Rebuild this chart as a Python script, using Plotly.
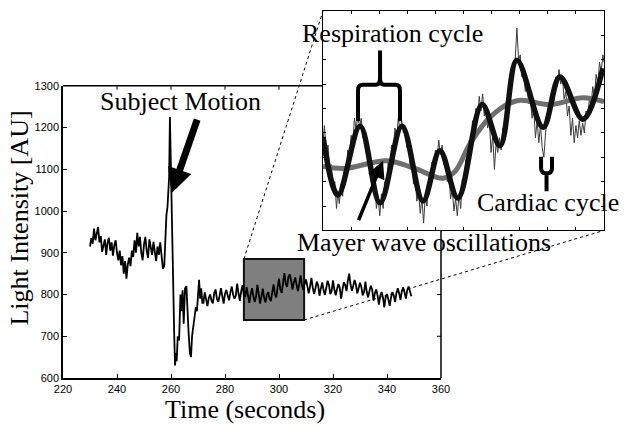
import plotly.graph_objects as go

# ---------------- data ----------------
time_s = [230.0, 230.5, 231.0, 231.5, 232.0, 232.5, 233.0, 233.5, 234.0, 234.5, 235.0, 235.5, 236.0, 236.5,
          237.0, 237.5, 238.0, 238.5, 239.0, 239.5, 240.0, 240.5, 241.0, 241.5, 242.0, 242.5, 243.0, 243.5,
          244.0, 244.5, 245.0, 245.5, 246.0, 246.5, 247.0, 247.5, 248.0, 248.5, 249.0, 249.5, 250.0, 250.5,
          251.0, 251.5, 252.0, 252.5, 253.0, 253.5, 254.0, 254.5, 255.0, 255.5, 256.0, 256.5, 257.0, 257.5,
          258.0, 258.3, 258.7, 259.0, 259.3, 259.6, 259.8, 260.0, 260.3, 260.6, 260.9, 261.2, 261.5, 261.8,
          262.1, 262.5, 263.0, 263.5, 263.8, 264.3, 264.7, 265.2, 265.7, 266.0, 266.5, 267.0, 267.4, 267.8,
          268.3, 268.7, 269.2, 269.6, 270.0, 270.4, 270.8, 271.2, 271.6,
          272.0, 272.5, 273.0, 273.5, 274.0, 274.5, 275.0, 275.5, 276.0, 276.5, 277.0, 277.5, 278.0, 278.5,
          279.0, 279.5, 280.0, 280.5, 281.0, 281.5, 282.0, 282.5, 283.0, 283.5, 284.0, 284.5, 285.0, 285.5,
          286.0, 286.5, 287.0, 287.5, 288.0, 288.5, 289.0, 289.5, 290.0, 290.5, 291.0, 291.5, 292.0, 292.5,
          293.0, 293.5, 294.0, 294.5, 295.0, 295.5, 296.0, 296.5, 297.0, 297.5, 298.0, 298.5, 299.0, 299.5,
          300.0, 300.5, 301.0, 301.5, 302.0, 302.5, 303.0, 303.5, 304.0, 304.5, 305.0, 305.5, 306.0, 306.5,
          307.0, 307.5, 308.0, 308.5, 309.0, 309.5, 310.0, 310.5, 311.0, 311.5, 312.0, 312.5, 313.0, 313.5,
          314.0, 314.5, 315.0, 315.5, 316.0, 316.5, 317.0, 317.5, 318.0, 318.5, 319.0, 319.5, 320.0, 320.5,
          321.0, 321.5, 322.0, 322.5, 323.0, 323.5, 324.0, 324.5, 325.0, 325.5, 326.0, 326.5, 327.0, 327.5,
          328.0, 328.5, 329.0, 329.5, 330.0, 330.5, 331.0, 331.5, 332.0, 332.5, 333.0, 333.5, 334.0, 334.5,
          335.0, 335.5, 336.0, 336.5, 337.0, 337.5, 338.0, 338.5, 339.0, 339.5, 340.0, 340.5, 341.0, 341.5,
          342.0, 342.5, 343.0, 343.5, 344.0, 344.5, 345.0, 345.5, 346.0, 346.5, 347.0, 347.5, 348.0, 348.5,
          349.0]
intensity_au = [915, 935, 922, 958, 930, 948, 962, 925, 940, 902, 920, 932, 895, 925,
                936, 905, 925, 893, 918, 930, 900, 882, 905, 870, 892, 850, 880, 838,
                872, 888, 868, 905, 890, 930, 900, 948, 915, 938, 900, 882, 920, 938,
                905, 888, 932, 915, 895, 926, 905, 880, 915, 895, 925, 900, 862, 868,
                960, 990, 1010, 1040, 1080, 1225, 1160, 1080, 950, 810, 780, 700, 630, 660,
                640, 700, 690, 800, 760, 810, 730, 815, 820, 760, 710, 660, 650, 700,
                730, 750, 770, 760, 800, 835, 790, 815, 780,
                780, 805, 788, 772, 792, 800, 785, 779, 803, 812, 790, 782, 797, 815,
                796, 778, 802, 811, 798, 786, 805, 819, 800, 790, 797, 826, 803, 785,
                808, 822, 798, 794, 818, 803, 780, 799, 815, 797, 782, 795, 823, 801,
                778, 796, 814, 792, 781, 799, 806, 790, 784, 805, 824, 800, 793, 818,
                838, 812, 804, 828, 851, 826, 818, 843, 848, 833, 812, 829, 841, 824,
                808, 825, 846, 822, 811, 826, 836, 820, 803, 819, 840, 817, 801, 815,
                831, 822, 797, 814, 829, 811, 799, 816, 833, 823, 801, 809, 834, 812,
                798, 813, 825, 816, 790, 811, 829, 823, 808, 833, 850, 824, 809, 821,
                835, 823, 803, 815, 828, 818, 798, 806, 831, 806, 793, 808, 821, 812,
                785, 803, 812, 798, 776, 797, 806, 793, 769, 794, 801, 788, 773, 793,
                806, 798, 782, 804, 815, 803, 787, 808, 817, 805, 790, 811, 819, 808,
                796]

# zoomed window (seconds / AU) shown as the grey box
zoom_t = [287.0, 309.3]
zoom_v = [739, 885]

# inset (arbitrary units, 0-10 by 0-9)
raw_x = [0.00, 0.05, 0.12, 0.18, 0.24, 0.30, 0.36, 0.42, 0.48, 0.53, 0.58, 0.64, 0.70, 0.76, 0.82, 0.88, 0.94,
         1.00, 1.06, 1.12, 1.18, 1.24, 1.30, 1.36, 1.42, 1.48, 1.54, 1.60, 1.66, 1.72, 1.78, 1.84, 1.90, 1.96,
         2.02, 2.08, 2.14, 2.20, 2.26, 2.32, 2.38, 2.44, 2.50, 2.56, 2.62, 2.68, 2.74, 2.80, 2.86, 2.92, 2.98,
         3.04, 3.10, 3.16, 3.22, 3.28, 3.34, 3.40, 3.46, 3.52, 3.58, 3.64, 3.70, 3.76, 3.82, 3.88, 3.94,
         4.00, 4.06, 4.12, 4.18, 4.24, 4.30, 4.36, 4.42, 4.48, 4.54, 4.60, 4.66, 4.72, 4.78, 4.84, 4.90, 4.96,
         5.02, 5.08, 5.14, 5.20, 5.26, 5.32, 5.38, 5.44, 5.50, 5.56, 5.62, 5.68, 5.74, 5.80, 5.86, 5.92, 5.98,
         6.04, 6.10, 6.16, 6.22, 6.28, 6.34, 6.40, 6.46, 6.52, 6.58, 6.64, 6.70, 6.76, 6.84, 6.90, 6.96,
         7.02, 7.08, 7.14, 7.20, 7.26, 7.32, 7.38, 7.44, 7.50, 7.56, 7.62, 7.68, 7.74, 7.80, 7.86, 7.92, 7.98,
         8.04, 8.10, 8.16, 8.22, 8.28, 8.34, 8.40, 8.46, 8.52, 8.58, 8.64, 8.70, 8.76, 8.82, 8.88, 8.94,
         9.00, 9.06, 9.12, 9.18, 9.24, 9.30, 9.36, 9.42, 9.48, 9.54, 9.60, 9.66, 9.72, 9.78, 9.84, 9.90, 9.96, 10.0]
raw_y = [3.6, 4.3, 3.2, 3.5, 2.4, 2.7, 1.6, 2.0, 0.9, 1.6, 1.1, 1.9, 1.4, 2.6, 2.2, 3.3, 3.0,
         3.9, 3.6, 4.6, 4.1, 4.8, 4.2, 4.6, 3.8, 4.1, 3.2, 3.4, 2.4, 2.7, 1.6, 2.0, 0.9, 1.4,
         0.6, 1.5, 0.9, 2.0, 1.7, 2.8, 2.4, 3.5, 3.2, 4.2, 3.8, 4.6, 4.1, 4.5, 4.0, 4.3, 3.4,
         3.6, 2.6, 2.9, 1.9, 2.2, 1.2, 1.6, 0.7, 1.3, 0.3, 1.4, 1.0, 2.0, 1.8, 2.8, 2.5,
         3.3, 3.0, 3.7, 3.1, 3.5, 2.7, 2.9, 2.0, 2.3, 1.3, 1.7, 0.8, 1.3, 0.6, 1.5, 0.9, 2.1,
         1.8, 2.9, 2.6, 3.7, 3.4, 4.5, 4.0, 5.0, 4.6, 5.5, 4.9, 5.6, 4.7, 5.0, 4.2, 4.5, 3.2,
         3.9, 2.5, 3.6, 3.2, 3.8, 3.3, 4.2, 4.0, 5.0, 4.8, 5.9, 5.7, 6.8, 7.0, 8.3, 7.0,
         7.2, 6.3, 6.6, 5.7, 6.0, 5.2, 5.4, 4.6, 5.0, 3.8, 4.5, 3.6, 4.3, 3.4, 3.0, 4.0, 4.6,
         5.0, 4.8, 5.6, 5.3, 6.3, 5.9, 6.6, 6.0, 6.3, 5.4, 5.7, 4.7, 5.1, 3.9, 4.6, 3.6,
         4.3, 3.8, 4.5, 3.9, 4.4, 4.0, 4.9, 4.6, 5.4, 5.1, 5.9, 5.5, 6.4, 6.0, 6.9, 6.5, 7.2, 6.9]
resp_x = [0.0, 0.53, 1.32, 2.03, 2.81, 3.56, 4.16, 4.80, 5.66, 6.30, 6.90, 7.83, 8.43, 9.25, 9.96]
resp_y = [3.83, 1.45, 4.27, 1.13, 4.27, 1.21, 3.27, 1.33, 5.16, 3.47, 6.98, 4.23, 6.29, 4.56, 6.65]
mayer_x = [0.0, 0.78, 2.28, 3.27, 4.27, 4.70, 5.23, 5.94, 6.90, 8.08, 9.25, 10.0]
mayer_y = [2.62, 2.54, 2.86, 2.54, 2.14, 2.42, 3.55, 4.64, 5.32, 5.16, 5.44, 5.28]

x_ticks = [220, 240, 260, 280, 300, 320, 340, 360]
y_ticks = [600, 700, 800, 900, 1000, 1100, 1200, 1300]

# ---------------- layout geometry ----------------
FIG_W, FIG_H = 626, 428
ML, MR, MT, MB = 63, 22, 5, 50
PW, PH = FIG_W - ML - MR, FIG_H - MT - MB


def pxx(px):
    return (px - ML) / PW


def pxy(py):
    return (FIG_H - MB - py) / PH


main_xdom = [0.0, pxx(441)]
main_ydom = [0.0, pxy(81)]
ins_xdom = [pxx(323), 1.0]
ins_ydom = [pxy(228), 1.0]
XR = [x_ticks[0], x_ticks[-1]]
YR = [y_ticks[0], y_ticks[-1]]
IXR = [0, 10]
IYR = [0, 9]


def main_to_paper(t, v):
    xp = main_xdom[0] + (t - XR[0]) / (XR[1] - XR[0]) * (main_xdom[1] - main_xdom[0])
    yp = main_ydom[0] + (v - YR[0]) / (YR[1] - YR[0]) * (main_ydom[1] - main_ydom[0])
    return xp, yp


SERIF = "Liberation Serif, Times New Roman, serif"
SANS = "Liberation Sans, Arial, sans-serif"

fig = go.Figure()

fig.add_trace(go.Scatter(x=time_s, y=intensity_au, mode="lines",
                         line=dict(color="#000000", width=1.8), xaxis="x", yaxis="y",
                         showlegend=False, hoverinfo="skip"))

fig.add_trace(go.Scatter(x=raw_x, y=raw_y, mode="lines",
                         line=dict(color="#3a3a3a", width=1), xaxis="x2", yaxis="y2",
                         showlegend=False, hoverinfo="skip"))
fig.add_trace(go.Scatter(x=mayer_x, y=mayer_y, mode="lines",
                         line=dict(color="#6e6e6e", width=5, shape="spline", smoothing=1.0),
                         xaxis="x2", yaxis="y2", showlegend=False, hoverinfo="skip"))
fig.add_trace(go.Scatter(x=resp_x, y=resp_y, mode="lines",
                         line=dict(color="#111111", width=5.5, shape="spline", smoothing=1.0),
                         xaxis="x2", yaxis="y2", showlegend=False, hoverinfo="skip"))

shapes = []
# grey zoom box
shapes.append(dict(type="rect", xref="x", yref="y", x0=zoom_t[0], x1=zoom_t[1], y0=zoom_v[0], y1=zoom_v[1],
                   fillcolor="#7f7f7f", line=dict(color="#111111", width=2), layer="below"))
# dotted connectors
p1 = main_to_paper(zoom_t[0], zoom_v[1])
p2 = main_to_paper(zoom_t[1], zoom_v[0])
shapes.append(dict(type="line", xref="paper", yref="paper", x0=p1[0], y0=p1[1], x1=ins_xdom[0], y1=ins_ydom[1],
                   line=dict(color="#000000", width=1, dash="dot")))
shapes.append(dict(type="line", xref="paper", yref="paper", x0=p2[0], y0=p2[1], x1=ins_xdom[1], y1=ins_ydom[0],
                   line=dict(color="#000000", width=1, dash="dot")))
# visible parts of main box (top and right) not hidden by inset
shapes.append(dict(type="line", xref="paper", yref="paper", x0=main_xdom[0], x1=ins_xdom[0],
                   y0=main_ydom[1], y1=main_ydom[1], line=dict(color="#000000", width=1.5)))
shapes.append(dict(type="line", xref="paper", yref="paper", x0=main_xdom[1], x1=main_xdom[1],
                   y0=main_ydom[0], y1=ins_ydom[0], line=dict(color="#000000", width=1.5)))
for tv in [700, 800]:
    shapes.append(dict(type="line", xref="paper", yref="y", x0=main_xdom[1] - 4 / PW, x1=main_xdom[1],
                       y0=tv, y1=tv, line=dict(color="#000000", width=1)))
for tt in [240, 260, 280, 300]:
    shapes.append(dict(type="line", xref="x", yref="paper", x0=tt, x1=tt,
                       y0=main_ydom[1], y1=main_ydom[1] - 4 / PH, line=dict(color="#000000", width=1)))
# respiration brace
shapes.append(dict(type="path", xref="x2", yref="y2",
                   path="M 1.246,4.48 L 1.246,5.75 Q 1.246,5.97 1.42,5.97 L 1.88,5.97 Q 2.03,5.97 2.03,6.25 "
                        "L 2.03,7.38 M 2.03,6.25 Q 2.03,5.97 2.18,5.97 L 2.57,5.97 Q 2.74,5.97 2.74,5.75 L 2.74,4.48",
                   line=dict(color="#000000", width=4)))
# cardiac brace
shapes.append(dict(type="path", xref="x2", yref="y2",
                   path="M 7.76,3.02 L 7.76,2.55 Q 7.76,2.34 7.955,2.34 Q 8.15,2.34 8.15,2.55 L 8.15,3.02 "
                        "M 7.955,2.34 L 7.955,1.61",
                   line=dict(color="#000000", width=4)))

annotations = []
# axis titles
annotations.append(dict(text="Light Intensity [AU]", xref="paper", yref="paper", x=pxx(20), y=pxy(216),
                        textangle=-90, showarrow=False, font=dict(family=SERIF, size=26, color="#000000"),
                        xanchor="center", yanchor="middle"))
annotations.append(dict(text="Time (seconds)", xref="paper", yref="paper", x=pxx(245), y=pxy(410),
                        showarrow=False, font=dict(family=SERIF, size=26, color="#000000"),
                        xanchor="center", yanchor="middle"))
for txt, cx, cy in [("Subject Motion", 180, 97), ("Respiration cycle", 392, 28),
                    ("Cardiac cycle", 548, 200), ("Mayer wave oscillations", 424, 240)]:
    annotations.append(dict(text=txt, xref="paper", yref="paper", x=pxx(cx), y=pxy(cy), showarrow=False,
                            font=dict(family=SERIF, size=26, color="#000000"),
                            xanchor="center", yanchor="middle"))
# arrows
annotations.append(dict(text="", x=260.25, y=1043, xref="x", yref="y", showarrow=True, ax=26, ay=-75,
                        arrowhead=2, arrowwidth=7, arrowsize=0.7, arrowcolor="#000000"))
annotations.append(dict(text="", x=2.135, y=2.86, xref="x2", yref="y2", showarrow=True, ax=-25, ay=61,
                        arrowhead=2, arrowwidth=3.5, arrowsize=1.0, arrowcolor="#000000"))

fig.update_layout(
    width=FIG_W, height=FIG_H,
    margin=dict(l=ML, r=MR, t=MT, b=MB, pad=0),
    paper_bgcolor="#ffffff", plot_bgcolor="#ffffff",
    showlegend=False,
    xaxis=dict(domain=main_xdom, range=XR, tickvals=x_ticks, ticktext=[str(v) for v in x_ticks],
               showgrid=False, zeroline=False, showline=True, linecolor="#000000", linewidth=1.5,
               ticks="inside", ticklen=4, tickcolor="#000000", mirror=False,
               tickfont=dict(family=SANS, size=11, color="#000000"), anchor="y"),
    yaxis=dict(domain=main_ydom, range=YR, tickvals=y_ticks, ticktext=[str(v) for v in y_ticks],
               showgrid=False, zeroline=False, showline=True, linecolor="#000000", linewidth=1.5,
               ticks="inside", ticklen=4, tickcolor="#000000", mirror=False,
               tickfont=dict(family=SANS, size=11, color="#000000"), anchor="x"),
    xaxis2=dict(domain=ins_xdom, range=IXR, tick0=0, dtick=1, showticklabels=False,
                showgrid=False, zeroline=False, showline=True, linecolor="#000000", linewidth=1,
                ticks="inside", ticklen=3, tickcolor="#000000", mirror="ticks", anchor="y2"),
    yaxis2=dict(domain=ins_ydom, range=IYR, tick0=0, dtick=1, showticklabels=False,
                showgrid=False, zeroline=False, showline=True, linecolor="#000000", linewidth=1,
                ticks="inside", ticklen=3, tickcolor="#000000", mirror="ticks", anchor="x2"),
    shapes=shapes,
    annotations=annotations,
)

fig.write_html("out.html", config={"displayModeBar": False},
               post_script="document.body.style.margin='0';document.body.style.padding='0';")
